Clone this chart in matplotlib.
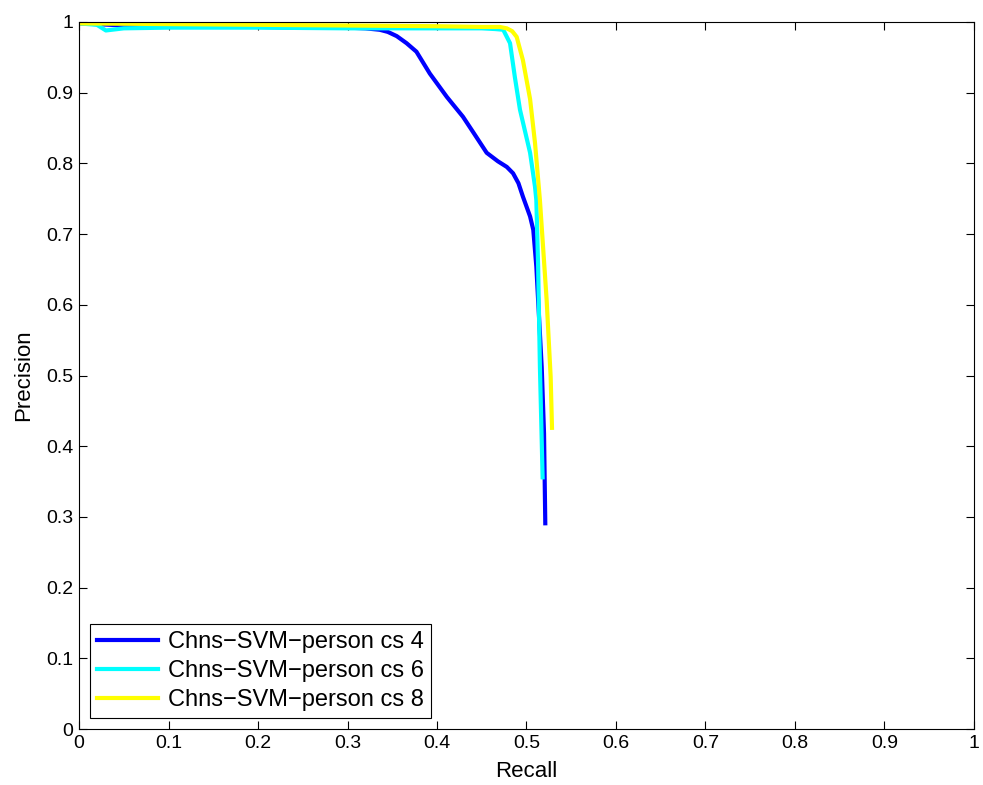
import matplotlib
matplotlib.use("Agg")
import matplotlib.pyplot as plt

plt.rcParams['font.family'] = ['Liberation Sans', 'DejaVu Sans']

# recall / precision
recall_cs4 = [0.0, 0.02, 0.05, 0.10, 0.15, 0.20, 0.25, 0.30, 0.32, 0.336, 0.345, 0.355, 0.366,
              0.377, 0.392, 0.411, 0.429, 0.441, 0.4555, 0.468, 0.478, 0.485, 0.491, 0.496,
              0.504, 0.5076, 0.511, 0.517, 0.5196, 0.521]
prec_cs4 = [0.998, 0.997, 0.995, 0.994, 0.993, 0.993, 0.992, 0.992, 0.991, 0.989, 0.986, 0.980, 0.970,
            0.958, 0.927, 0.894, 0.866, 0.843, 0.815, 0.803, 0.795, 0.786, 0.772, 0.753,
            0.725, 0.706, 0.654, 0.512, 0.418, 0.291]

recall_cs6 = [0.0, 0.02, 0.03, 0.05, 0.10, 0.20, 0.30, 0.40, 0.45, 0.465, 0.474, 0.4816,
              0.487, 0.4927, 0.504, 0.5095, 0.511, 0.513, 0.515, 0.518]
prec_cs6 = [0.998, 0.996, 0.988, 0.991, 0.992, 0.992, 0.991, 0.991, 0.991, 0.990, 0.989, 0.97,
            0.922, 0.876, 0.815, 0.767, 0.748, 0.654, 0.512, 0.356]

recall_cs8 = [0.0, 0.10, 0.20, 0.30, 0.40, 0.45, 0.47, 0.478, 0.484, 0.489, 0.496, 0.504, 0.5095,
              0.515, 0.5225, 0.527, 0.5285]
prec_cs8 = [0.998, 0.997, 0.996, 0.995, 0.994, 0.993, 0.993, 0.991, 0.987, 0.979, 0.946, 0.891, 0.829,
            0.748, 0.607, 0.498, 0.426]

labels = ['Chns\u2212SVM\u2212person cs 4', 'Chns\u2212SVM\u2212person cs 6',
          'Chns\u2212SVM\u2212person cs 8']

fig = plt.figure(figsize=(9.83, 7.85), dpi=100)
ax = fig.add_axes([0.0804, 0.0713, 0.9104, 0.9007])

ax.plot(recall_cs4, prec_cs4, color='#0000ff', lw=3, label=labels[0])
ax.plot(recall_cs6, prec_cs6, color='#00ffff', lw=3, label=labels[1])
ax.plot(recall_cs8, prec_cs8, color='#ffff00', lw=3, label=labels[2])

ax.set_xlim(0, 1)
ax.set_ylim(0, 1)
ticks = [i / 10 for i in range(11)]
ax.set_xticks(ticks)
ax.set_yticks(ticks)
ax.set_xticklabels(['0'] + ['%.1f' % t for t in ticks[1:-1]] + ['1'])
ax.set_yticklabels(['0'] + ['%.1f' % t for t in ticks[1:-1]] + ['1'])
ax.tick_params(direction='in', top=True, right=True, labelsize=14, length=6, width=0.8, pad=4)
for s in ax.spines.values():
    s.set_linewidth(0.8)

ax.set_xlabel('Recall', fontsize=16, labelpad=7)
ax.set_ylabel('Precision', fontsize=16, labelpad=9)

leg = ax.legend(loc='lower left', fontsize=17, fancybox=False, framealpha=1,
                edgecolor='black', handlelength=2.6, borderaxespad=0.45,
                labelspacing=0.3, borderpad=0.3, handletextpad=0.4)
leg.get_frame().set_linewidth(0.8)

fig.savefig('out.png', dpi=100)
